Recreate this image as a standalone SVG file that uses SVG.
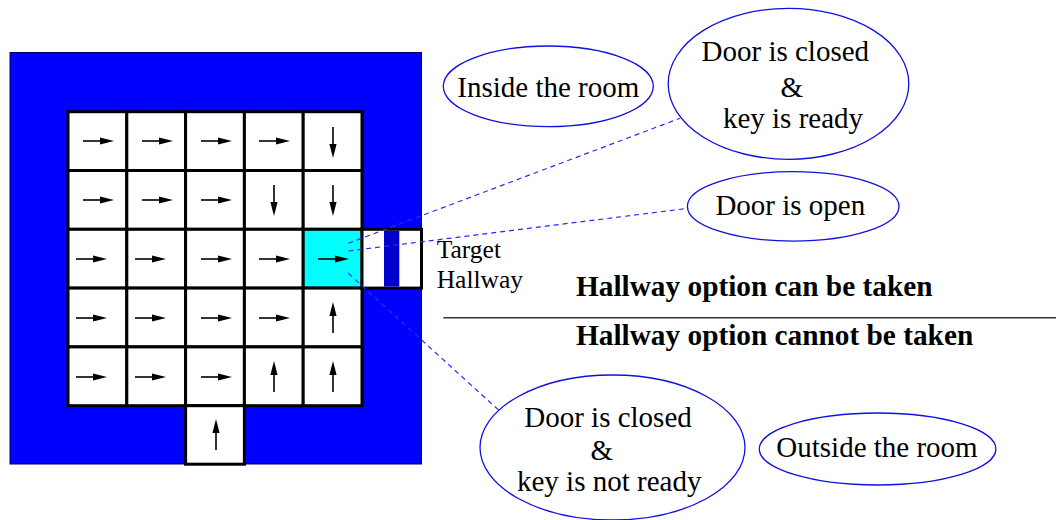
<svg xmlns="http://www.w3.org/2000/svg" xmlns:xlink="http://www.w3.org/1999/xlink" width="1056" height="520" viewBox="0 0 1056 520">
<style>
.cell{fill:#ffffff;stroke:#000;stroke-width:3}
.cyan{fill:#00ffff;stroke:#000;stroke-width:3}
.ell{fill:none;stroke:#1010e0;stroke-width:1.3}
.lbl{font-family:"Liberation Serif","Times New Roman",serif;font-size:29px;fill:#000}
.bold{font-family:"Liberation Serif","Times New Roman",serif;font-size:29.3px;font-weight:bold;fill:#000}
.small{font-family:"Liberation Serif","Times New Roman",serif;font-size:25.5px;fill:#000}
.dash{fill:none;stroke:#2a2aff;stroke-width:1.2;stroke-dasharray:5 4}
</style>
<defs>
<g id="ar"><line x1="0" y1="0" x2="18" y2="0" stroke="#000" stroke-width="1.6"/><path d="M17,-3.6 L31,0 L17,3.6 Z" fill="#000"/></g>
</defs>
<rect width="1056" height="520" fill="#fff"/>
<g id="room">
<rect x="10" y="52.5" width="411.5" height="411.5" fill="#0000ff" stroke="#000060" stroke-width="1"/>
<g id="grid">
<rect class="cell" x="68" y="111.7" width="58.8" height="58.8"/>
<rect class="cell" x="126.8" y="111.7" width="58.8" height="58.8"/>
<rect class="cell" x="185.6" y="111.7" width="58.8" height="58.8"/>
<rect class="cell" x="244.4" y="111.7" width="58.8" height="58.8"/>
<rect class="cell" x="303.2" y="111.7" width="58.8" height="58.8"/>
<rect class="cell" x="68" y="170.5" width="58.8" height="58.8"/>
<rect class="cell" x="126.8" y="170.5" width="58.8" height="58.8"/>
<rect class="cell" x="185.6" y="170.5" width="58.8" height="58.8"/>
<rect class="cell" x="244.4" y="170.5" width="58.8" height="58.8"/>
<rect class="cell" x="303.2" y="170.5" width="58.8" height="58.8"/>
<rect class="cell" x="68" y="229.3" width="58.8" height="58.8"/>
<rect class="cell" x="126.8" y="229.3" width="58.8" height="58.8"/>
<rect class="cell" x="185.6" y="229.3" width="58.8" height="58.8"/>
<rect class="cell" x="244.4" y="229.3" width="58.8" height="58.8"/>
<rect class="cyan" x="303.2" y="229.3" width="58.8" height="58.8"/>
<rect class="cell" x="68" y="288.1" width="58.8" height="58.8"/>
<rect class="cell" x="126.8" y="288.1" width="58.8" height="58.8"/>
<rect class="cell" x="185.6" y="288.1" width="58.8" height="58.8"/>
<rect class="cell" x="244.4" y="288.1" width="58.8" height="58.8"/>
<rect class="cell" x="303.2" y="288.1" width="58.8" height="58.8"/>
<rect class="cell" x="68" y="346.9" width="58.8" height="58.8"/>
<rect class="cell" x="126.8" y="346.9" width="58.8" height="58.8"/>
<rect class="cell" x="185.6" y="346.9" width="58.8" height="58.8"/>
<rect class="cell" x="244.4" y="346.9" width="58.8" height="58.8"/>
<rect class="cell" x="303.2" y="346.9" width="58.8" height="58.8"/>
<rect class="cell" x="185.6" y="405.7" width="58.8" height="58.5"/>
</g>
<g id="hallway">
<rect class="cell" x="362" y="229.3" width="59.5" height="58.8"/>
<rect x="384" y="230.8" width="15.3" height="55.8" fill="#0000cc"/>
</g>
<g id="arrows">
<use xlink:href="#ar" transform="translate(83,141)"/>
<use xlink:href="#ar" transform="translate(142,141)"/>
<use xlink:href="#ar" transform="translate(201,141)"/>
<use xlink:href="#ar" transform="translate(259,141)"/>
<use xlink:href="#ar" transform="translate(333,127) rotate(90)"/>
<use xlink:href="#ar" transform="translate(83,200)"/>
<use xlink:href="#ar" transform="translate(142,200)"/>
<use xlink:href="#ar" transform="translate(201,200)"/>
<use xlink:href="#ar" transform="translate(274,185) rotate(90)"/>
<use xlink:href="#ar" transform="translate(333,185) rotate(90)"/>
<use xlink:href="#ar" transform="translate(76,259)"/>
<use xlink:href="#ar" transform="translate(135,259)"/>
<use xlink:href="#ar" transform="translate(201,259)"/>
<use xlink:href="#ar" transform="translate(259,259)"/>
<use xlink:href="#ar" transform="translate(318,259)"/>
<use xlink:href="#ar" transform="translate(76,318)"/>
<use xlink:href="#ar" transform="translate(135,318)"/>
<use xlink:href="#ar" transform="translate(201,318)"/>
<use xlink:href="#ar" transform="translate(259,318)"/>
<use xlink:href="#ar" transform="translate(333,333) rotate(-90)"/>
<use xlink:href="#ar" transform="translate(76,377)"/>
<use xlink:href="#ar" transform="translate(135,377)"/>
<use xlink:href="#ar" transform="translate(201,377)"/>
<use xlink:href="#ar" transform="translate(274,392) rotate(-90)"/>
<use xlink:href="#ar" transform="translate(333,392) rotate(-90)"/>
<use xlink:href="#ar" transform="translate(216,450) rotate(-90)"/>
</g>
</g>
<g id="connectors">
<line class="dash" x1="348.3" y1="243.3" x2="680" y2="118.3"/>
<line class="dash" x1="348.3" y1="251" x2="688.3" y2="208.3"/>
<line class="dash" x1="348.3" y1="273.3" x2="499.3" y2="410.7"/>
</g>
<g id="target-label">
<text class="small" x="436.7" y="258.3">Target</text>
<text class="small" x="436.7" y="288.3">Hallway</text>
</g>
<g id="inside">
<ellipse class="ell" cx="548.3" cy="86.3" rx="105" ry="40.3"/>
<text class="lbl" x="548.3" y="97" text-anchor="middle">Inside the room</text>
</g>
<g id="closed-ready">
<ellipse class="ell" cx="788.5" cy="83.8" rx="120.3" ry="75.5"/>
<text class="lbl" x="785.3" y="61" text-anchor="middle">Door is closed</text>
<text class="lbl" x="791.7" y="97" text-anchor="middle">&amp;</text>
<text class="lbl" x="793" y="128" text-anchor="middle">key is ready</text>
</g>
<g id="open">
<ellipse class="ell" cx="793.2" cy="206.4" rx="105.8" ry="34.7"/>
<text class="lbl" x="790.3" y="215" text-anchor="middle">Door is open</text>
</g>
<g id="divider">
<text class="bold" x="576" y="296">Hallway option can be taken</text>
<line x1="443.3" y1="317.7" x2="1056" y2="317.7" stroke="#333" stroke-width="1.5"/>
<text class="bold" x="576" y="345">Hallway option cannot be taken</text>
</g>
<g id="closed-notready">
<ellipse class="ell" cx="612.5" cy="447.5" rx="132.5" ry="72.5"/>
<text class="lbl" x="608" y="427.3" text-anchor="middle">Door is closed</text>
<text class="lbl" x="601.7" y="460" text-anchor="middle">&amp;</text>
<text class="lbl" x="609.2" y="490.7" text-anchor="middle">key is not ready</text>
</g>
<g id="outside">
<ellipse class="ell" cx="877.6" cy="449" rx="118.3" ry="36"/>
<text class="lbl" x="877" y="456.7" text-anchor="middle">Outside the room</text>
</g>
</svg>
